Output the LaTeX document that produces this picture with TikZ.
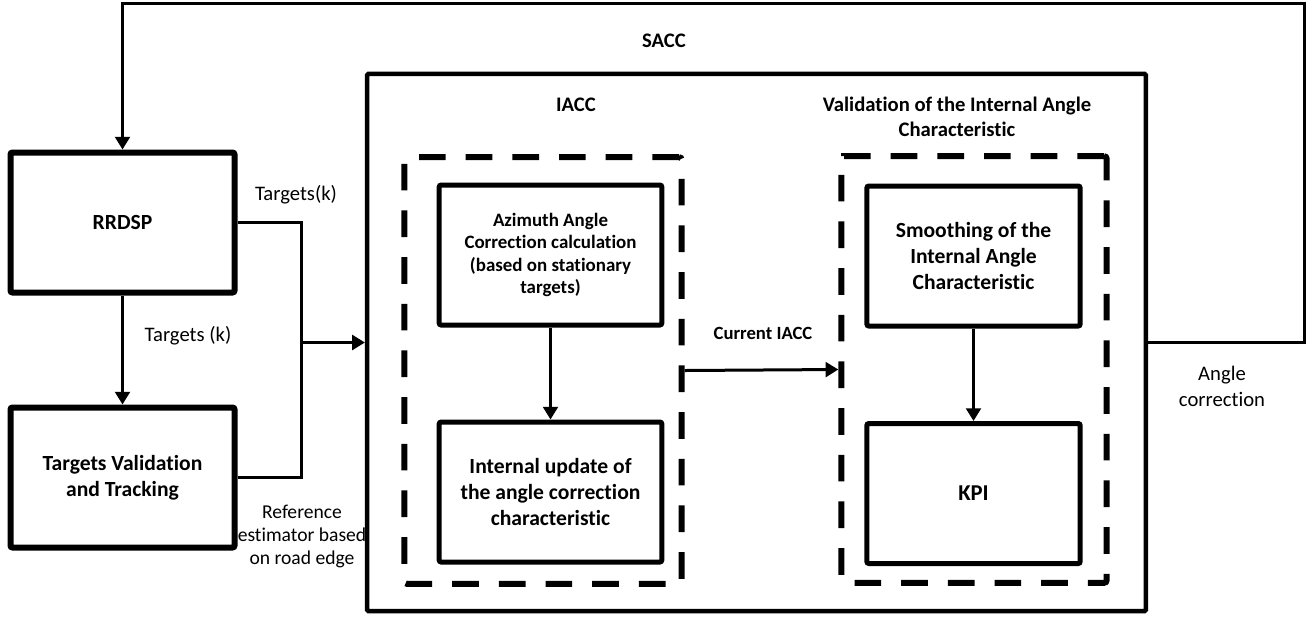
\documentclass[tikz,border=0pt]{standalone}
\usepackage{fontspec}
\setmainfont{Carlito}[Ligatures=NoCommon]
\usetikzlibrary{arrows.meta}
\tikzset{
  blockbox/.style={draw, line width=3.75pt, rounded corners=1.5pt, align=center, inner sep=0pt},
  groupbox/.style={draw, line width=4.5pt, dash pattern=on 20pt off 15pt, rounded corners=2pt, inner sep=0pt},
  flowline/.style={line width=2.25pt},
  flowarrow/.style={flowline, -{Triangle[length=9.5pt,width=11pt]}},
  lbl/.style={align=center, inner sep=0pt, font=\fontsize{15.5}{19.5}\selectfont},
  boldlbl/.style={align=center, inner sep=0pt, font=\fontsize{15.5}{19}\selectfont\bfseries}
}
\begin{document}
\begin{tikzpicture}[x=0.75pt,y=0.75pt,yscale=-1,xscale=1]
    \useasboundingbox (0,0) rectangle (1308,619);
    % left blocks
    \node[blockbox, line width=4.5pt, minimum width=168pt, minimum height=105pt, font=\fontsize{16.2}{19.5}\selectfont\bfseries] (rrdsp) at (122.5,222.5) {RRDSP};
    \node[blockbox, line width=4.5pt, minimum width=168pt, minimum height=105pt, font=\fontsize{16.2}{19.5}\selectfont\bfseries] (tvt) at (122.5,477.5) {Targets Validation\\and Tracking};
    % SACC frame
    \node[draw, line width=3.4pt, rounded corners=1pt, minimum width=584pt, minimum height=403pt, inner sep=0pt] (sacc) at (756.5,342.5) {};
    % IACC group
    \node[groupbox, minimum width=208pt, minimum height=320pt] (iaccbox) at (543,370.5) {};
    \node[blockbox, minimum width=167pt, minimum height=105pt, font=\fontsize{14.2}{16.7}\selectfont\bfseries] (azimuth) at (550.5,255) {Azimuth Angle\\Correction calculation\\(based on stationary\\targets)};
    \node[blockbox, minimum width=167pt, minimum height=105pt, font=\fontsize{16.2}{19.5}\selectfont\bfseries] (update) at (550.5,492) {Internal update of\\the angle correction\\characteristic};
    % validation group
    \node[groupbox, minimum width=199pt, minimum height=320pt] (validbox) at (974,369.5) {};
    \node[blockbox, minimum width=160pt, minimum height=105pt, font=\fontsize{16.2}{19.5}\selectfont\bfseries] (smooth) at (973.5,256) {Smoothing of the\\Internal Angle\\Characteristic};
    \node[blockbox, minimum width=160pt, minimum height=105pt, font=\fontsize{17}{19.5}\selectfont\bfseries] (kpi) at (973.5,493.5) {KPI};
    % Text Node
    \node[boldlbl] (saccl) at (664,41) {SACC};
    \node[boldlbl] (iaccl) at (576,105) {IACC};
    \node[boldlbl] (validl) at (957,117) {Validation of the Internal Angle\\Characteristic};
    \node[boldlbl, font=\fontsize{14}{16}\selectfont\bfseries] (currentl) at (763,333) {Current IACC};
    \node[lbl] (tgt1) at (296,195) {Targets(k)};
    \node[lbl] (tgt2) at (188,336) {Targets (k)};
    \node[lbl, font=\fontsize{14.7}{17.25}\selectfont] (refl) at (302,536) {Reference\\estimator based\\on road edge};
    \node[lbl] (anglel) at (1222,386) {Angle\\correction};
    % connectors
    \coordinate (jn) at (301,342.5);
    \coordinate (fb) at (1304,3);
    \draw[flowline] (rrdsp.east) -| (jn) |- (tvt.east);
    \draw[flowarrow] (jn) -- (sacc.west);
    \draw[flowarrow] (rrdsp.south) -- (tvt.north);
    \draw[flowarrow] (azimuth.south) -- (update.north);
    \draw[flowarrow] (smooth.south) -- (kpi.north);
    \draw[flowarrow] (iaccbox.east) -- (validbox.west);
    \draw[flowarrow] (sacc.east) -- (sacc.east -| fb) -- (fb) -| (rrdsp.north);
\end{tikzpicture}
\end{document}
